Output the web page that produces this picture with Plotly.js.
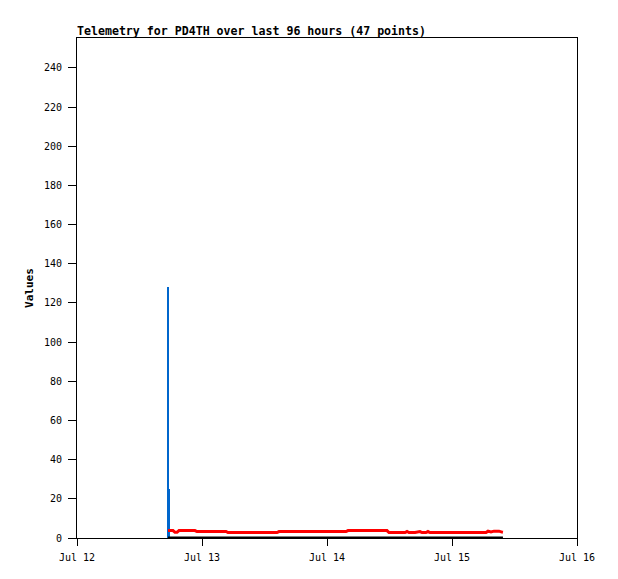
<!DOCTYPE html>
<html>
<head>
<meta charset="utf-8">
<script src="https://cdn.plot.ly/plotly-3.0.1.min.js"></script>
<style>html,body{margin:0;padding:0;background:#fff;}#chart{width:618px;height:579px;}</style>
</head>
<body>
<div id="chart"></div>
<script>
// Telemetry samples (47 points)
const times = [
  '2024-07-12 17:28','2024-07-12 18:26','2024-07-12 18:49','2024-07-12 19:12','2024-07-12 19:35',
  '2024-07-12 21:07','2024-07-12 22:39','2024-07-12 23:02','2024-07-13 00:35','2024-07-13 02:30',
  '2024-07-13 04:37','2024-07-13 04:59','2024-07-13 07:18','2024-07-13 09:36','2024-07-13 12:06',
  '2024-07-13 14:24','2024-07-13 14:47','2024-07-13 17:17','2024-07-13 19:47','2024-07-13 22:16',
  '2024-07-14 00:58','2024-07-14 03:39','2024-07-14 04:02','2024-07-14 06:43','2024-07-14 09:13',
  '2024-07-14 11:31','2024-07-14 11:54','2024-07-14 13:38','2024-07-14 14:59','2024-07-14 15:22',
  '2024-07-14 15:44','2024-07-14 16:54','2024-07-14 17:51','2024-07-14 18:14','2024-07-14 19:00',
  '2024-07-14 19:23','2024-07-14 19:46','2024-07-14 22:39','2024-07-15 01:32','2024-07-15 04:13',
  '2024-07-15 06:32','2024-07-15 06:55','2024-07-15 07:29','2024-07-15 08:04','2024-07-15 09:01',
  '2024-07-15 09:36','2024-07-15 09:47'
];
const redValues = [
  3.8,3.8,2.9,2.9,3.8,
  3.8,3.8,3.3,3.3,3.3,
  3.3,2.8,2.8,2.8,2.8,
  2.8,3.3,3.3,3.3,3.3,
  3.3,3.3,3.8,3.8,3.8,
  3.8,2.8,2.8,2.8,3.3,
  2.8,2.8,3.3,2.8,2.8,
  3.3,2.8,2.8,2.8,2.8,
  2.8,3.5,3.1,3.5,3.5,
  3.0,2.9
];
const blackValues = times.map(() => 0);
const blueTimes = ['2024-07-12 17:25','2024-07-12 17:42'];
const blueValues = [128, 25];

const title = 'Telemetry for PD4TH over last 96 hours (47 points)';
const yTitle = 'Values';
const xRange = ['2024-07-12 00:00','2024-07-16 00:00'];

const mono = 'DejaVu Sans Mono, Liberation Mono, monospace';

const traces = [
  {type:'bar', x: blueTimes, y: blueValues, width:[1380000, 720000],
   marker:{color:'#0066cc', line:{width:0}}, hoverinfo:'skip'},
  {type:'scatter', mode:'lines', x: times, y: blackValues,
   line:{color:'#000000', width:3}, cliponaxis:false},
  {type:'scatter', mode:'lines', x: times, y: redValues,
   line:{color:'#ff0000', width:3}, cliponaxis:false}
];

const layout = {
  width:618, height:579,
  margin:{l:77, r:41, t:38, b:41},
  paper_bgcolor:'#ffffff', plot_bgcolor:'#ffffff',
  showlegend:false,
  bargap:0,
  title:{text:title, x:0, xanchor:'left', xref:'paper', y:1-31/579, yanchor:'middle',
         font:{family:mono, size:11.6, color:'#000', weight:'bold'}},
  xaxis:{type:'date', range:xRange, dtick:86400000, tick0:'2024-07-12', tickformat:'%b %d',
         showgrid:false, zeroline:false, showline:true, linecolor:'#000', linewidth:1, mirror:true,
         ticks:'outside', ticklen:7, tickcolor:'#000', ticklabelstandoff:3,
         tickfont:{family:mono, size:10, color:'#000'}},
  yaxis:{range:[0,255.3], dtick:20, tick0:0, showgrid:false, zeroline:false,
         showline:true, linecolor:'#000', linewidth:1, mirror:true,
         ticks:'outside', ticklen:8, tickcolor:'#000', ticklabelstandoff:4,
         tickfont:{family:mono, size:10, color:'#000'},
         title:{text:yTitle, standoff:8, font:{family:mono, size:11, color:'#000', weight:'bold'}}}
};

Plotly.newPlot('chart', traces, layout, {displayModeBar:false, staticPlot:true});
</script>
</body>
</html>
